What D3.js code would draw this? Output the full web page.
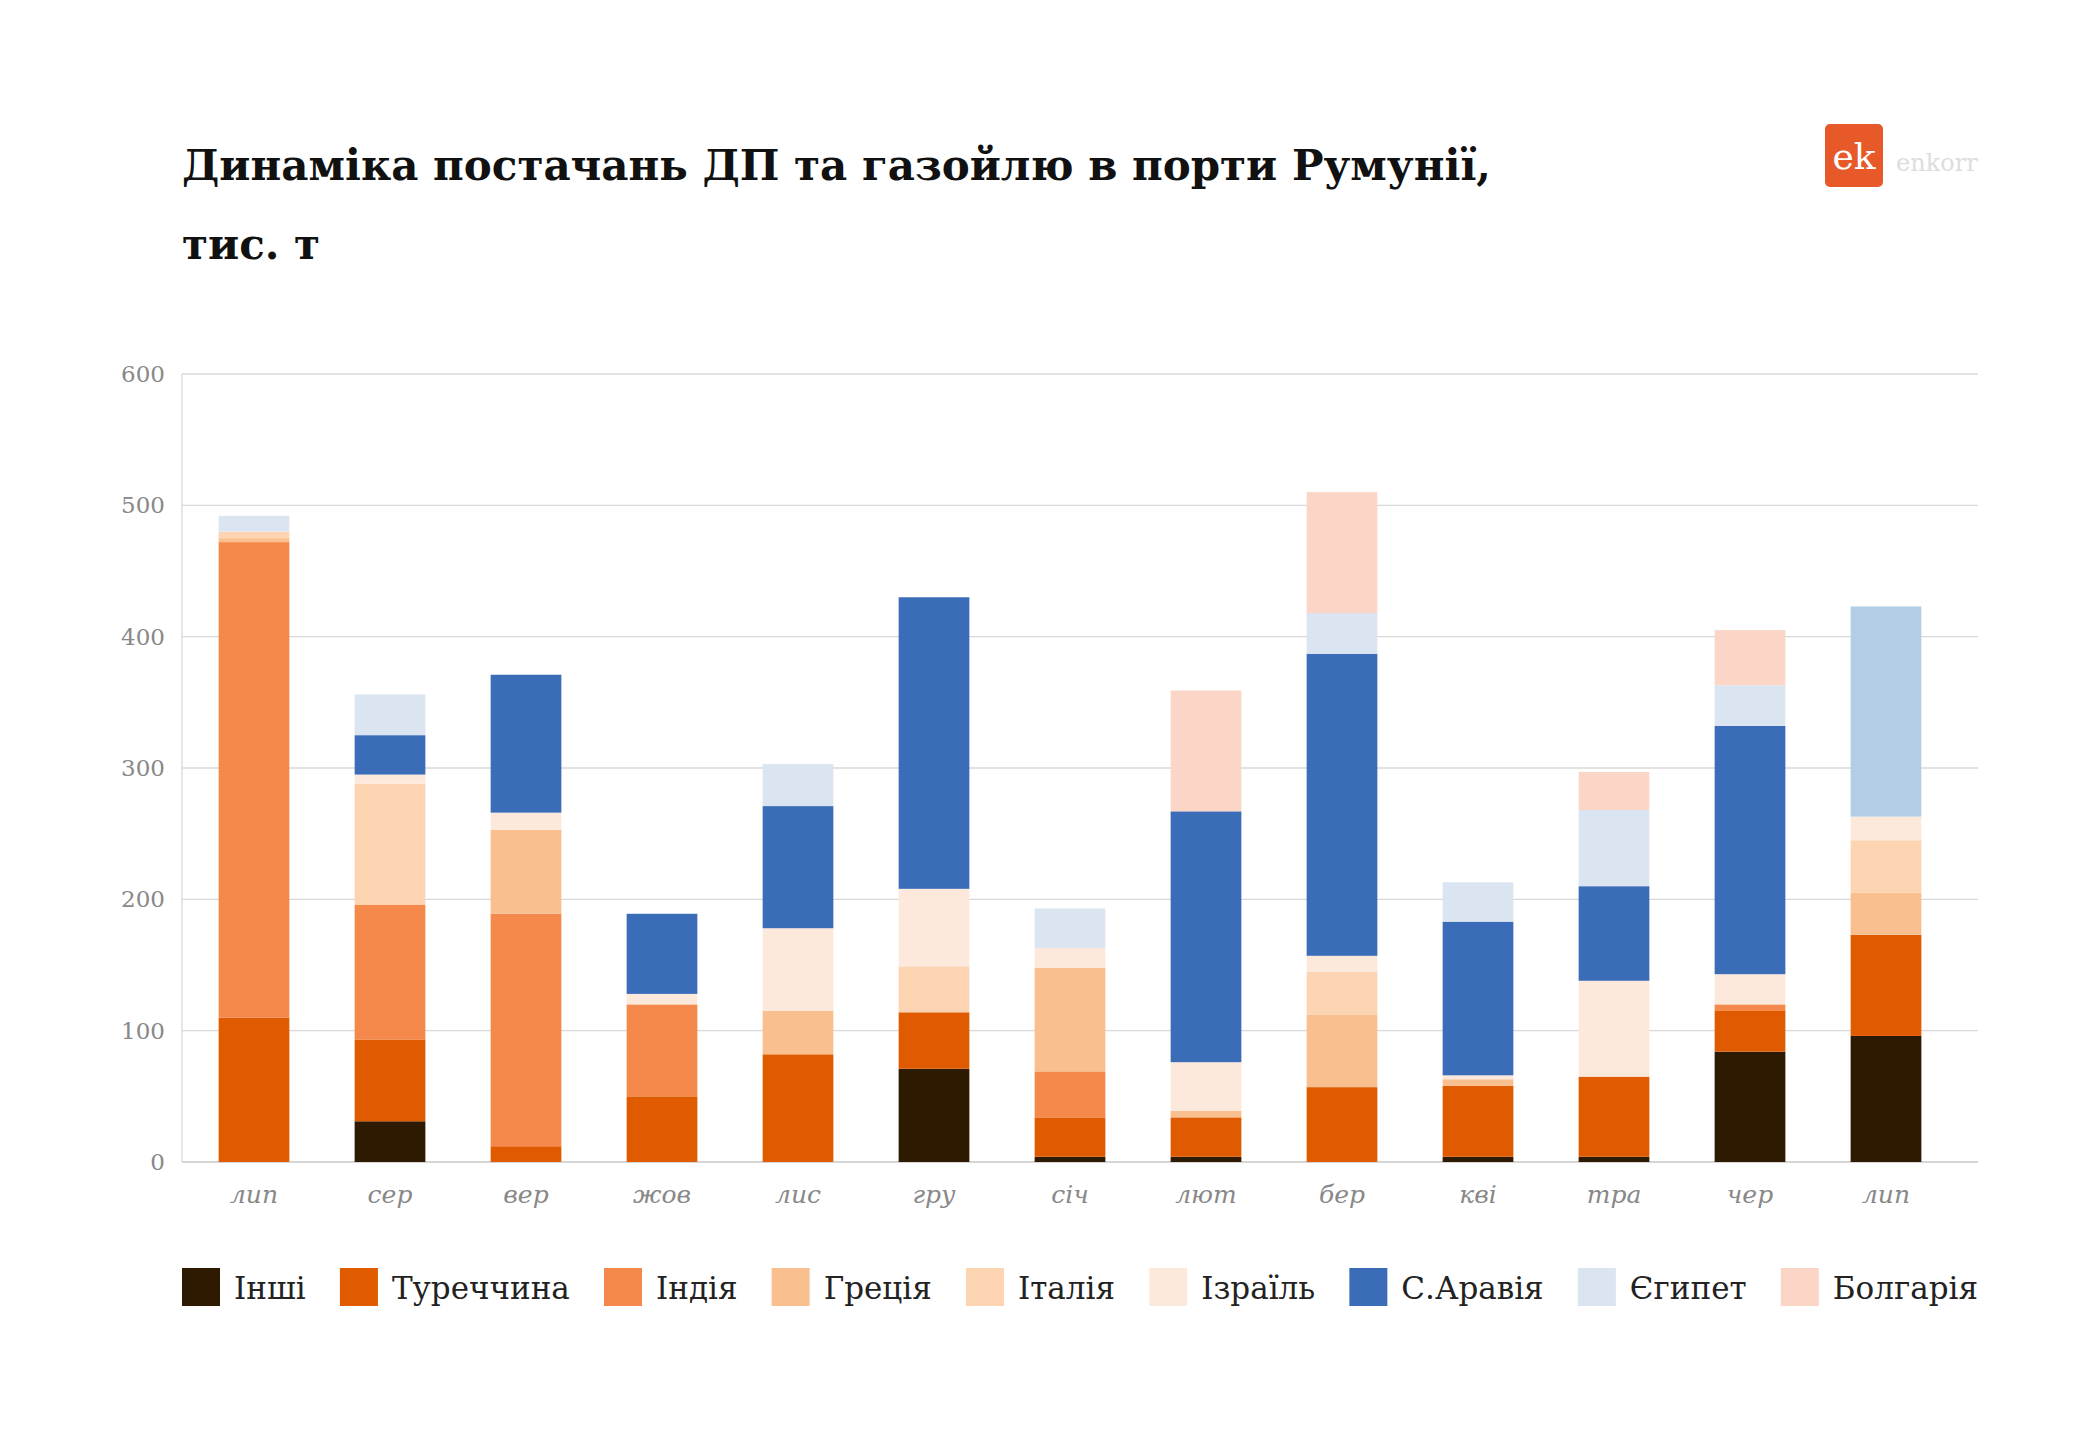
<!DOCTYPE html>
<html><head><meta charset="utf-8">
<script src="https://cdn.jsdelivr.net/npm/d3@7"></script>
<style>body{margin:0;background:#fff}svg{display:block}</style>
</head><body>
<svg id="chart" width="2100" height="1436"></svg>
<script>
var months = ["лип","сер","вер","жов","лис","гру","січ","лют","бер","кві","тра","чер","лип"];
var series = ["Інші","Туреччина","Індія","Греція","Італія","Ізраїль","С.Аравія","Єгипет","Болгарія"];
var colors = ["#2d1a00","#e05a00","#f4894b","#f9bf8f","#fcd4b1","#fde9db","#3a6cb8","#dbe5f1","#fbd5c5"];
var inshi     = [0,31,0,0,0,71,4,4,0,4,4,84,96];
var turechyna = [110,62,12,50,82,43,30,30,57,54,61,31,77];
var indiya    = [362,103,177,70,0,0,35,0,0,0,0,5,0];
var hretsiya  = [3,0,64,0,33,0,79,5,55,5,0,0,32];
var italiya   = [5,92,0,0,0,35,0,0,33,0,0,0,40];
var izrail    = [0,7,13,8,63,59,15,37,12,3,73,23,18];
var saraviya  = [0,30,105,61,93,222,0,191,230,117,72,189,0];
var yehypet   = [12,31,0,0,32,0,30,0,31,30,58,31,160];
var bolhariya = [0,0,0,0,0,0,0,92,92,0,29,42,0];
var yTicks = [0,100,200,300,400,500,600];
var values = [inshi,turechyna,indiya,hretsiya,italiya,izrail,saraviya,yehypet,bolhariya];
// the last bar's Єгипет segment is drawn darker in the source
var lastEgypt = "#b4cde6";

var svg = d3.select("#chart");
var font = "'DejaVu Serif', serif";
var L = 182, R = 1978, T = 374, B = 1162;

svg.append("text").attr("x",L).attr("y",180).attr("font-family",font).attr("font-weight","bold")
  .attr("font-size",42).attr("fill","#111").text("Динаміка постачань ДП та газойлю в порти Румунії,");
svg.append("text").attr("x",L).attr("y",259).attr("font-family",font).attr("font-weight","bold")
  .attr("font-size",42).attr("fill","#111").text("тис. т");

// logo
svg.append("rect").attr("x",1825).attr("y",124).attr("width",58).attr("height",63).attr("rx",5).attr("fill","#e8592a");
svg.append("text").attr("x",1854).attr("y",169).attr("text-anchor","middle").attr("font-family",font)
  .attr("font-size",36).attr("fill","#fff").text("ek");
svg.append("text").attr("x",1896).attr("y",171).attr("font-family",font).attr("font-size",24)
  .attr("fill","#ddd").text("enkorr");

var x = d3.scaleBand().domain(d3.range(months.length)).range([186,1954]).paddingInner(0.48).paddingOuter(0.24);
var y = d3.scaleLinear().domain([0,600]).range([B,T]);

svg.append("g").selectAll("line").data(yTicks).join("line")
  .attr("x1",L).attr("x2",R).attr("y1",d=>y(d)).attr("y2",d=>y(d))
  .attr("stroke",d=>d===0?"#c8c8c8":"#d9d9d9").attr("stroke-width",1.3);
svg.append("line").attr("x1",L).attr("x2",L).attr("y1",T).attr("y2",B).attr("stroke","#d9d9d9").attr("stroke-width",1.3);
svg.append("g").selectAll("text").data(yTicks).join("text")
  .attr("x",165).attr("y",d=>y(d)+8).attr("text-anchor","end").attr("font-family",font)
  .attr("font-size",23).attr("fill","#888").text(d=>d);

var rows = months.map((m,i)=>{var o={i:i}; series.forEach((s,k)=>o[s]=values[k][i]); return o;});
var stacked = d3.stack().keys(series)(rows);
svg.append("g").selectAll("g").data(stacked).join("g")
  .attr("fill",(d,k)=>colors[k])
  .selectAll("rect").data(d=>d.map(p=>Object.assign(p,{key:d.key}))).join("rect")
  .attr("x",p=>x(p.data.i)).attr("width",x.bandwidth())
  .attr("y",p=>y(p[1])).attr("height",p=>y(p[0])-y(p[1]))
  .attr("fill",p=>(p.key==="Єгипет"&&p.data.i===months.length-1)?lastEgypt:null);

svg.append("g").selectAll("text").data(months).join("text")
  .attr("x",(d,i)=>x(i)+x.bandwidth()/2).attr("y",1203).attr("text-anchor","middle")
  .attr("font-family",font).attr("font-style","italic").attr("font-size",25).attr("fill","#888").text(d=>d);

// legend, spread across the plot width
var lg = svg.append("g");
var items = lg.selectAll("g").data(series).join("g");
items.append("rect").attr("width",38).attr("height",38).attr("y",1268).attr("fill",(d,k)=>colors[k]);
items.append("text").attr("x",52).attr("y",1299).attr("font-family",font).attr("font-size",31).attr("fill","#222").text(d=>d);
var widths = []; items.each(function(){widths.push(this.getBBox().width);});
var gap = (R-L-d3.sum(widths))/(series.length-1), cx = L;
items.attr("transform",(d,k)=>{var t="translate("+cx+",0)"; cx+=widths[k]+gap; return t;});
</script>
</body></html>
